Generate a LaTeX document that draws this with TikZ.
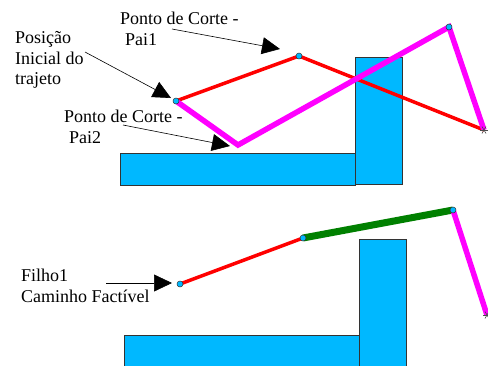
\documentclass[tikz,border=0pt]{standalone}
\usepackage{fontspec}
\setmainfont{Liberation Serif}
\usetikzlibrary{arrows.meta}
\definecolor{obst}{RGB}{0,184,255}
\definecolor{pathgreen}{RGB}{0,128,0}
\definecolor{pathred}{RGB}{255,0,0}
\definecolor{pathmag}{RGB}{255,0,255}
\begin{document}
\begin{tikzpicture}[x=1pt,y=-1pt,
  obstacle/.style={fill=obst,draw=black!80,line width=0.7pt},
  redpath/.style={draw=pathred,line width=3.5pt},
  magpath/.style={draw=pathmag,line width=5.5pt},
  greenpath/.style={draw=pathgreen,line width=7pt},
  wp/.style={circle,fill=obst,draw=black!80,line width=0.5pt,inner sep=0pt,minimum size=6pt},
  pointer/.style={draw=black,line width=0.6pt,-{Triangle[length=18pt,width=17pt]}},
  lbl/.style={font=\rmfamily\fontsize{18}{20.5}\selectfont,align=left,inner sep=0pt,anchor=north west},
  astx/.style={draw=black!70,line width=0.6pt},
  ]
\useasboundingbox (0,0) rectangle (488,365);
\begin{scope}
\clip (0,0) rectangle (488,365);
% ---------- top ----------
\coordinate (s1) at (176,101);
\coordinate (r1) at (299,56);
\coordinate (m1) at (238,145);
\coordinate (m2) at (449,27);
\coordinate (e1) at (484,130);
\draw[obstacle] (120,153) rectangle (355,185);
\draw[obstacle] (355,57) rectangle (402,184);
\draw[redpath] (s1) -- (r1) -- (e1);
\draw[magpath] (s1) -- (m1) -- (m2) -- (e1);
\node[wp] (n1) at (s1) {};
\node[wp] (n2) at (r1) {};
\node[wp] (n3) at (m2) {};
\draw[astx] (e1) ++(-4,0) -- ++(8,0);
\draw[astx] (e1) ++(-2,-3.5) -- ++(4,7);
\draw[astx] (e1) ++(2,-3.5) -- ++(-4,7);
% ---------- bottom ----------
\coordinate (s2) at (180,284);
\coordinate (q1) at (303,238);
\coordinate (q2) at (453,210);
\coordinate (e2) at (487,315);
\draw[obstacle] (124,335) rectangle (360,372);
\draw[obstacle] (359,239) rectangle (406,372);
\draw[redpath] (s2) -- (q1);
\draw[greenpath] (q1) -- (q2);
\draw[magpath] (q2) -- (e2);
\node[wp] (k1) at (s2) {};
\node[wp] (k2) at (q1) {};
\node[wp] (k3) at (q2) {};
\draw[astx] (e2) ++(-4,0) -- ++(8,0);
\draw[astx] (e2) ++(-2,-3.5) -- ++(4,7);
\draw[astx] (e2) ++(2,-3.5) -- ++(-4,7);
\end{scope}
% ---------- labels ----------
\node[lbl] (l1) at (120,12) {Ponto de Corte -\\\hspace*{5pt}Pai1};
\node[lbl] (l2) at (15,31.5) {Posição\\Inicial do\\trajeto};
\node[lbl] (l3) at (64,110) {Ponto de Corte -\\\hspace*{5pt}Pai2};
\node[lbl] (l4) at (21,269) {Filho1\\Caminho Factível};
% ---------- pointers ----------
\coordinate (a1s) at (172,29);  \coordinate (a1t) at (280,49);
\coordinate (a2s) at (85,52);   \coordinate (a2t) at (171,98);
\coordinate (a3s) at (123,125); \coordinate (a3t) at (230,146);
\coordinate (a4s) at (106,283); \coordinate (a4t) at (172,283);
\draw[pointer] (a1s) -- (a1t);
\draw[pointer] (a2s) -- (a2t);
\draw[pointer] (a3s) -- (a3t);
\draw[pointer] (a4s) -- (a4t);
\end{tikzpicture}
\end{document}
